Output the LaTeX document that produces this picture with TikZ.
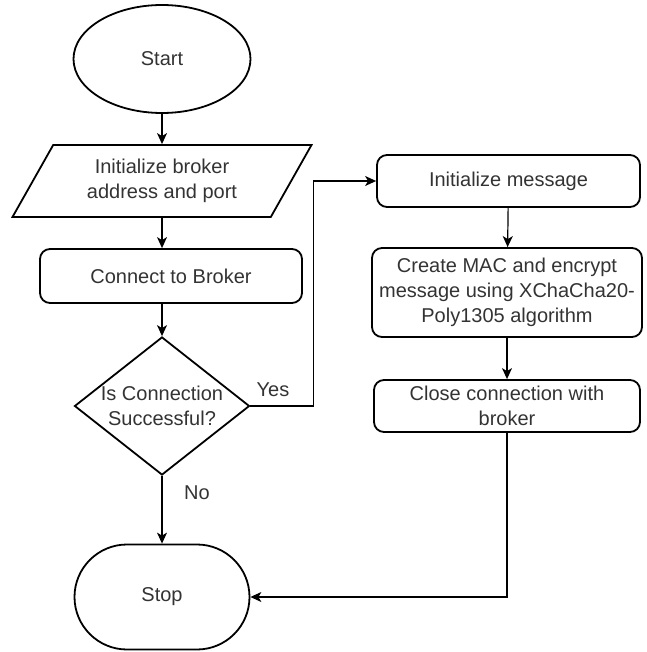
\documentclass[tikz,border=0pt]{standalone}
\usepackage{fontspec}
\setmainfont{Liberation Sans}
\usetikzlibrary{shapes.geometric,shapes.misc,arrows.meta}

\begin{document}
\begin{tikzpicture}[x=1pt,y=-1pt,
  every node/.style={font=\fontsize{20}{25}\selectfont, text=black!80},
  terminal/.style={draw, line width=1.8pt, ellipse, minimum width=177pt, minimum height=108pt, inner sep=0pt},
  stopper/.style={draw, line width=1.8pt, rounded rectangle, minimum width=175pt, minimum height=105pt, inner sep=0pt},
  io/.style={draw, line width=1.8pt, trapezium, trapezium left angle=47, trapezium right angle=133,
    trapezium stretches body, minimum width=299pt, minimum height=72pt, inner sep=0pt, align=center},
  process/.style={draw, line width=1.8pt, rounded corners=10pt, align=center, inner sep=0pt},
  decision/.style={draw, line width=1.8pt, diamond, minimum width=175pt, minimum height=138pt, inner sep=0pt},
  flow/.style={line width=1.2pt, -{Stealth[length=11pt,width=10pt,inset=3pt]}}]
\useasboundingbox (0,0) rectangle (646,652);
% left column
\node[terminal] (start) at (162,59) {Start};
\node[io] (brokeraddr) at (162,181) {Initialize broker\\address and port};
\node[process, minimum width=262pt, minimum height=54pt] (connect) at (171,276) {Connect to Broker};
\node[decision, label={[align=center]center:Is Connection\\Successful?}] (dec) at (162,406) {};
\node[stopper] (stop) at (162,597) {Stop};
% right column
\node[process, minimum width=263pt, minimum height=52pt] (initmsg) at (508.5,181) {Initialize message};
\node[process, minimum width=270pt, minimum height=89pt] (mac) at (507,292.5) {Create MAC and encrypt\\message using XChaCha20-\\Poly1305 algorithm};
\node[process, minimum width=266pt, minimum height=52pt] (close) at (507,406) {Close connection with\\broker};
% connectors
\draw[flow] (start) -- (brokeraddr);
\draw[flow] (brokeraddr.south) -- (brokeraddr.south |- connect.north);
\draw[flow] (connect.south -| dec.north) -- (dec.north);
\draw[flow] (dec.east) -- ++(63,0) |- (initmsg.west);
\draw[flow] (dec.south) -- (stop.north);
\draw[flow] (initmsg) -- (mac);
\draw[flow] (mac) -- (close);
\draw[flow] (close.south) |- (stop.east);
\node (yes) at (273,390) {Yes};
\node (no) at (197,493) {No};
\end{tikzpicture}
\end{document}
